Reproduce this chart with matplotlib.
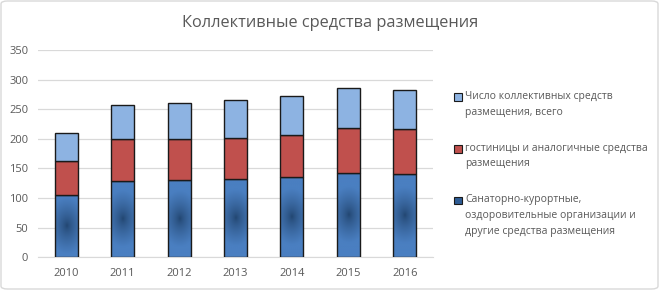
import numpy as np
import matplotlib
matplotlib.use("Agg")
import matplotlib.pyplot as plt
from matplotlib.patches import Patch, FancyBboxPatch, Rectangle
from matplotlib.legend_handler import HandlerPatch
from matplotlib.colors import to_rgb

years = ["2010", "2011", "2012", "2013", "2014", "2015", "2016"]
sanatorium = [105, 129, 130, 133, 136, 143, 141]
hotels = [58, 70, 69, 69, 71, 75, 75]
total_part = [47, 58, 61, 64, 65, 67, 67]

title = "Коллективные средства размещения"
labels = ["Число коллективных средств\nразмещения, всего",
          "гостиницы и аналогичные средства\nразмещения",
          "Санаторно-курортные,\nоздоровительные организации и\nдругие средства размещения"]
yticks = [0, 50, 100, 150, 200, 250, 300, 350]

plt.rcParams['font.family'] = ['Open Sans', 'DejaVu Sans']
gray = "#595959"

fig = plt.figure(figsize=(6.59, 2.90), dpi=100)
ax = fig.add_axes([38/659, 1 - 257.3/290, 395/659, 207.3/290])

x = np.arange(len(years))
w = 0.41
light_c = "#8db3e2"
red_c = "#c0504d"
blue_light = np.array(to_rgb("#4a7fc1"))
blue_dark = np.array(to_rgb("#21446e"))

b1 = ax.bar(x, sanatorium, w, color="none", edgecolor="#1a1a1a", linewidth=1.0, zorder=3)
b2 = ax.bar(x, hotels, w, bottom=sanatorium, color=red_c, edgecolor="#1a1a1a", linewidth=1.0, zorder=3)
bottom3 = np.array(sanatorium) + np.array(hotels)
b3 = ax.bar(x, total_part, w, bottom=bottom3, color=light_c, edgecolor="#1a1a1a", linewidth=1.0, zorder=3)

# radial gradient fill for the bottom segments
ny, nx = 200, 60
for rect in b1.patches:
    x0, y0 = rect.get_x(), rect.get_y()
    rw, rh = rect.get_width(), rect.get_height()
    yy, xx = np.mgrid[0:1:ny*1j, 0:1:nx*1j]
    dx = (xx - 0.5) * 2
    dy = (yy - 0.5) * rh / 30.0
    r = np.clip(np.sqrt(dx**2 + dy**2) / 1.6, 0, 1) ** 0.7
    img = blue_dark[None, None, :] * (1 - r[..., None]) + blue_light[None, None, :] * r[..., None]
    im = ax.imshow(img, extent=[x0, x0 + rw, y0, y0 + rh], origin="lower",
                   aspect="auto", zorder=2, interpolation="bilinear")
    im.set_clip_path(rect)

ax.set_xlim(-0.5, len(years) - 0.5)
ax.set_ylim(0, 350)
ax.set_yticks(yticks)
ax.set_xticks(x)
ax.set_xticklabels(years)
ax.tick_params(axis="both", length=0, colors=gray, labelsize=8.0)
ax.tick_params(axis="x", pad=8)
ax.tick_params(axis="y", pad=7)
for s in ["top", "right", "left"]:
    ax.spines[s].set_visible(False)
ax.spines["bottom"].set_color("#d9d9d9")
ax.grid(axis="y", color="#d9d9d9", linewidth=0.9, zorder=0)
ax.set_axisbelow(True)

fig.text(330/659, 1 - 23/290, title, ha="center", va="center", fontsize=11.8, color=gray)


class TopHandler(HandlerPatch):
    def __init__(self, shift):
        super().__init__()
        self.shift = shift

    def create_artists(self, legend, orig_handle, xdescent, ydescent, width, height, fontsize, trans):
        p = Rectangle((-xdescent, -ydescent + self.shift), width, height)
        self.update_prop(p, orig_handle, legend)
        p.set_transform(trans)
        return [p]


leg_fs = 7.5
step_pt = 11.0
handles = [Patch(facecolor=light_c, edgecolor="#1a1a1a", linewidth=0.8),
           Patch(facecolor=red_c, edgecolor="#1a1a1a", linewidth=0.8),
           Patch(facecolor="#2e5c94", edgecolor="#1a1a1a", linewidth=0.8)]
hmap = {h: TopHandler((lab.count("\n")) / 2 * step_pt) for h, lab in zip(handles, labels)}
leg = fig.legend(handles, labels, loc="upper left", bbox_to_anchor=(454/659, 1 - 91/290),
                 frameon=False, fontsize=leg_fs, labelcolor=gray, handlelength=0.75,
                 handleheight=0.75, handletextpad=0.3, labelspacing=2.4, borderpad=0,
                 borderaxespad=0, handler_map=hmap)
for t in leg.get_texts():
    t.set_linespacing(1.58)

border = FancyBboxPatch((1/659, 1/290), 657/659, 288/290, boxstyle="round,pad=0,rounding_size=0.01",
                        transform=fig.transFigure, facecolor="none", edgecolor="#d9d9d9", linewidth=1.0)
fig.patches.append(border)

fig.savefig("out.png", dpi=100)
